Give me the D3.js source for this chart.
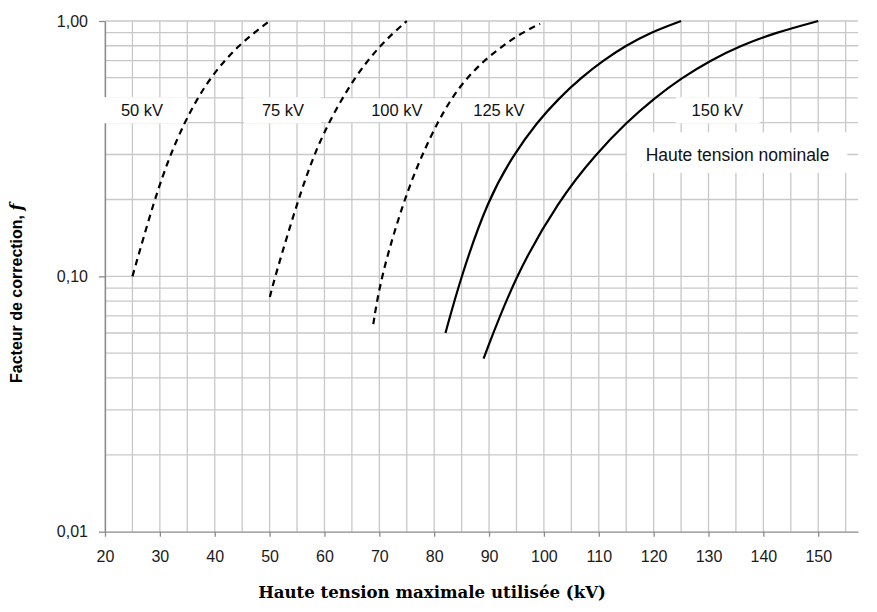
<!DOCTYPE html>
<html>
<head>
<meta charset="utf-8">
<script src="https://cdn.jsdelivr.net/npm/d3@7"></script>
<style>
  body { margin: 0; background: #fff; }
  svg { display: block; font-family: "Liberation Sans", Arial, sans-serif; }
</style>
</head>
<body>
<div id="canvas"></div>
<script>
// ---- data ----
var seriesNames = ["50 kV", "75 kV", "100 kV", "125 kV", "150 kV"];

var u50  = [25, 29.0, 31.9, 34.5, 36.9, 39.3, 41.8, 44.4, 47.2, 50];
var f50  = [0.1, 0.2, 0.3, 0.4, 0.5, 0.6, 0.7, 0.8, 0.9, 1.0];

var u75  = [50.05, 51.0, 55.2, 58.1, 60.8, 63.3, 65.6, 67.9, 70.2, 72.6, 75];
var f75  = [0.083, 0.1, 0.2, 0.3, 0.4, 0.5, 0.6, 0.7, 0.8, 0.9, 1.0];

var u100 = [68.9, 70.3, 74.5, 77.8, 80.6, 83.2, 86.0, 89.1, 92.5, 96.0, 99.3];
var f100 = [0.065, 0.1, 0.2, 0.3, 0.4, 0.5, 0.6, 0.7, 0.8, 0.9, 0.975];

var u125 = [82.06, 84.9, 89.8, 94.5, 98.7, 102.8, 106.8, 110.8, 114.9, 119.3, 125];
var f125 = [0.060, 0.1, 0.2, 0.3, 0.4, 0.5, 0.6, 0.7, 0.8, 0.9, 1.0];

var u150 = [89.0, 94.7, 102.8, 109.4, 115.0, 120.2, 125.2, 130.3, 135.8, 142.2, 150];
var f150 = [0.0476, 0.1, 0.2, 0.3, 0.4, 0.5, 0.6, 0.7, 0.8, 0.9, 1.0];

var xTickValues = [20, 30, 40, 50, 60, 70, 80, 90, 100, 110, 120, 130, 140, 150];
var yTickValues = [0.01, 0.1, 1];
var yTickLabels = ["0,01", "0,10", "1,00"];
var xMinorGrid = [20, 25, 30, 35, 40, 45, 50, 55, 60, 65, 70, 75, 80, 85, 90, 95, 100, 105, 110, 115, 120, 125, 130, 135, 140, 145, 150, 155];
var yMinorGrid = [0.02, 0.03, 0.04, 0.05, 0.06, 0.07, 0.08, 0.09, 0.1,
                  0.2, 0.3, 0.4, 0.5, 0.6, 0.7, 0.8, 0.9, 1];

var xTitle = "Haute tension maximale utilisée (kV)";
var yTitle = "Facteur de correction, ";
var noteText = "Haute tension nominale";

// ---- canvas ----
var W = 877, H = 612;
var m = {t: 21, r: 19, b: 80.3, l: 105};
var w = W - m.l - m.r, h = H - m.t - m.b;

var svg = d3.select('#canvas').append('svg')
    .attr('width', W).attr('height', H);
svg.append('rect').attr('width', W).attr('height', H).attr('fill', '#fff');

var plot = svg.append('g').attr('transform', 'translate(' + m.l + ',' + m.t + ')');

var x = d3.scaleLinear().domain([20, 157.25]).range([0, w]);
var y = d3.scaleLog().domain([0.01, 1]).range([h, 0]);

// grid
plot.append('g').selectAll('line.v').data(xMinorGrid).enter().append('line')
    .attr('x1', function(d){ return x(d); }).attr('x2', function(d){ return x(d); })
    .attr('y1', 0).attr('y2', h)
    .attr('stroke', '#c8c8c8').attr('stroke-width', 1.3);
plot.append('g').selectAll('line.h').data(yMinorGrid).enter().append('line')
    .attr('x1', 0).attr('x2', w)
    .attr('y1', function(d){ return y(d); }).attr('y2', function(d){ return y(d); })
    .attr('stroke', '#c8c8c8').attr('stroke-width', 1.3);

// axes
var xAxis = d3.axisBottom(x).tickValues(xTickValues).tickSize(5).tickSizeOuter(0).tickPadding(14);
var yAxis = d3.axisLeft(y).tickValues(yTickValues).tickSize(6).tickSizeOuter(0).tickPadding(11)
    .tickFormat(function(d, i){ return yTickLabels[i]; });

var gx = plot.append('g').attr('transform', 'translate(0,' + h + ')').call(xAxis);
var gy = plot.append('g').call(yAxis);
[gx, gy].forEach(function(g){
  g.select('.domain').attr('stroke', '#8a8a8a').attr('stroke-width', 1.3);
  g.selectAll('.tick line').attr('stroke', '#8a8a8a').attr('stroke-width', 1.3);
  g.selectAll('.tick text').attr('fill', '#1a1a1a')
    .style('font-size', '16px').style('font-family', '"Liberation Sans", Arial, sans-serif');
});

// white label boxes (annotation layout, in data units)
var boxes = [
  {u: [20, 35],      f: [0.4, 0.5]},
  {u: [45.5, 59.4],  f: [0.4, 0.5]},
  {u: [59.4, 100],   f: [0.404, 0.495]},
  {u: [124.2, 139.3],f: [0.4, 0.5]},
  {u: [115.3, 155.3],f: [0.256, 0.364]}
];
plot.append('g').selectAll('rect').data(boxes).enter().append('rect')
    .attr('x', function(d){ return x(d.u[0]) - 1; })
    .attr('width', function(d){ return x(d.u[1]) - x(d.u[0]) + 1; })
    .attr('y', function(d){ return y(d.f[1]) - 0.7; })
    .attr('height', function(d){ return y(d.f[0]) - y(d.f[1]) + 1.4; })
    .attr('fill', '#fff');

// curves
var series = [
  {u: u50,  f: f50,  dashed: true},
  {u: u75,  f: f75,  dashed: true},
  {u: u100, f: f100, dashed: true},
  {u: u125, f: f125, dashed: false},
  {u: u150, f: f150, dashed: false}
];
var line = d3.line()
    .x(function(d){ return x(d[0]); })
    .y(function(d){ return y(d[1]); })
    .curve(d3.curveBasis);

plot.append('g').selectAll('path').data(series).enter().append('path')
    .attr('d', function(s){ return line(s.u.map(function(u, i){ return [u, s.f[i]]; })); })
    .attr('fill', 'none').attr('stroke', '#000').attr('stroke-width', 2.2)
    .attr('stroke-dasharray', function(s){ return s.dashed ? '6.5,5' : null; });

// series labels
var labelU = [26.74, 52.44, 73.2, 91.8, 131.6];
var labelF = 0.446;
plot.append('g').selectAll('text').data(seriesNames).enter().append('text')
    .attr('x', function(d, i){ return x(labelU[i]); })
    .attr('y', y(labelF))
    .attr('dy', '0.36em')
    .attr('text-anchor', 'middle')
    .style('font-size', '16.5px').attr('fill', '#111')
    .text(function(d){ return d; });

plot.append('text')
    .attr('x', x(135.3)).attr('y', y(0.3)).attr('dy', '0.36em')
    .attr('text-anchor', 'middle')
    .style('font-size', '17.5px').attr('fill', '#111')
    .text(noteText);

// axis titles
svg.append('text')
    .attr('x', 432).attr('y', 598)
    .attr('text-anchor', 'middle')
    .style('font-family', '"DejaVu Serif", serif').style('font-weight', 'bold').style('font-size', '16.6px')
    .text(xTitle);

var yt = svg.append('text')
    .attr('transform', 'translate(22,383) rotate(-90)')
    .attr('text-anchor', 'start')
    .style('font-weight', 'bold').style('font-size', '16px');
yt.append('tspan').text(yTitle);
yt.append('tspan').style('font-family', '"DejaVu Serif", serif').style('font-style', 'italic').text('f');
</script>
</body>
</html>
